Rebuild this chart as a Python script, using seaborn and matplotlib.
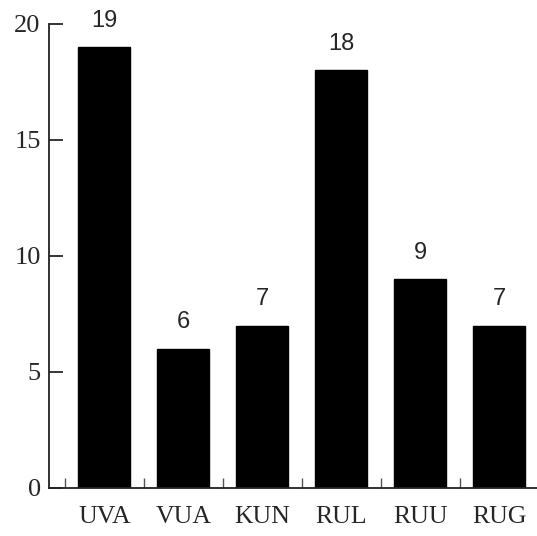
import numpy as np
import matplotlib
matplotlib.use("Agg")
import matplotlib.pyplot as plt
import seaborn as sns
from matplotlib.ticker import FixedLocator

categories = ["UVA", "VUA", "KUN", "RUL", "RUU", "RUG"]
counts = [19, 6, 7, 18, 9, 7]
y_ticks = [0, 5, 10, 15, 20]

sns.set_style("ticks")
plt.rcParams["font.family"] = ["Liberation Serif", "DejaVu Serif"]

fig = plt.figure(figsize=(5.37, 5.36), dpi=100)
ax = fig.add_axes([0.0912, 0.0896, 0.9088, 0.8657])

sns.barplot(x=categories, y=counts, color="black", width=0.66,
            saturation=1, ax=ax, edgecolor="black")

# value labels above bars
for i, v in enumerate(counts):
    ax.annotate(str(v), (i, v), xytext=(0, 11), textcoords="offset points",
                ha="center", va="bottom", fontsize=17,
                family=["Liberation Sans", "DejaVu Sans"], annotation_clip=False)

ax.set_xlim(-0.7, 5.48)
ax.set_ylim(0, 20)
ax.set_xticks(np.arange(len(categories)), categories)
ax.set_yticks(y_ticks)
ax.tick_params(axis="y", direction="in", length=10, width=1.3, labelsize=19, pad=6)
ax.tick_params(axis="x", which="major", length=0, labelsize=18.5, pad=13)
ax.xaxis.set_minor_locator(FixedLocator(np.arange(len(categories)) - 0.5))
ax.tick_params(axis="x", which="minor", direction="in", length=7, width=1, color="#555555")
ax.set_xlabel("")
ax.set_ylabel("")

sns.despine(ax=ax, top=True, right=True)
for s in ["left", "bottom"]:
    ax.spines[s].set_linewidth(1.3)
    ax.spines[s].set_color("#222222")

fig.savefig("out.png", dpi=100)
